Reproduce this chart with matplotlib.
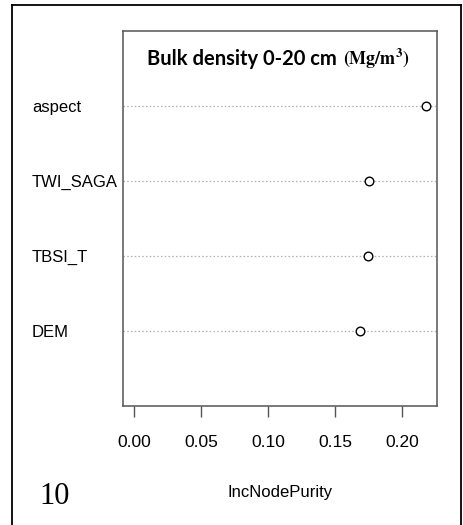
import matplotlib
matplotlib.use("Agg")
import matplotlib.pyplot as plt
from matplotlib.lines import Line2D

# Variable importance (random forest) for bulk density 0-20 cm
variables = ["DEM", "TBSI_T", "TWI_SAGA", "aspect"]
inc_node_purity = [0.1684, 0.1746, 0.1754, 0.2179]
x_ticks = [0.00, 0.05, 0.10, 0.15, 0.20]
x_tick_labels = ["0.00", "0.05", "0.10", "0.15", "0.20"]

sans = ["Liberation Sans", "DejaVu Sans"]
plt.rcParams["mathtext.fontset"] = "stix"

fig = plt.figure(figsize=(4.64, 5.25), dpi=100)
ax = fig.add_axes([123 / 464, 119 / 525, 314 / 464, 375 / 525])

ypos = list(range(1, len(variables) + 1))

# dotted guide lines behind the points
for y in ypos:
    ax.axhline(y, color="#b0b0b0", lw=0.9, ls=(0, (1.2, 1.8)), zorder=1)
ax.plot(inc_node_purity, ypos, ls="none", marker="o", ms=6.2,
        mfc="white", mec="black", mew=1.0, zorder=3)

ax.set_xlim(-0.0082, 0.2261)
ax.set_ylim(0, 5)

# variable names sit left-aligned near the outer frame
ax.set_yticks(ypos)
ax.set_yticklabels(variables, family=sans, fontsize=12)
ax.tick_params(axis="y", length=0, pad=65.5)
for lab in ax.get_yticklabels():
    lab.set_horizontalalignment("left")

ax.set_xticks(x_ticks)
ax.set_xticklabels(x_tick_labels, family=sans, fontsize=12.5)
ax.tick_params(axis="x", length=8, width=1.0, color="#555555", pad=13)

for sp in ax.spines.values():
    sp.set_color("#555555")
    sp.set_linewidth(1.1)

ax.set_xlabel("IncNodePurity", family=sans, fontsize=12, labelpad=25)

# title in two fonts
ax.text(0.6815, 0.925, "Bulk density 0-20 cm", transform=ax.transAxes,
        ha="right", va="center", family=["Lato", "DejaVu Sans"],
        fontweight="bold", fontsize=14.5)
ax.text(0.700, 0.925, r"$\mathbf{(Mg/m^3)}$", transform=ax.transAxes,
        ha="left", va="center", fontsize=13)

fig.text(55 / 464, 1 - 496 / 525, "10", ha="center", va="center",
         family=["Liberation Serif", "DejaVu Serif"], fontsize=22)

# outer frame (open at the bottom)
x0, x1 = 12 / 464, 461 / 464
y_top = 1 - 5 / 525
for xs, ys in [([x0, x0], [0, y_top]), ([x0, x1], [y_top, y_top]),
               ([x1, x1], [y_top, 0])]:
    fig.add_artist(Line2D(xs, ys, color="black", lw=1.3,
                          transform=fig.transFigure))

fig.savefig("out.png", dpi=100)
